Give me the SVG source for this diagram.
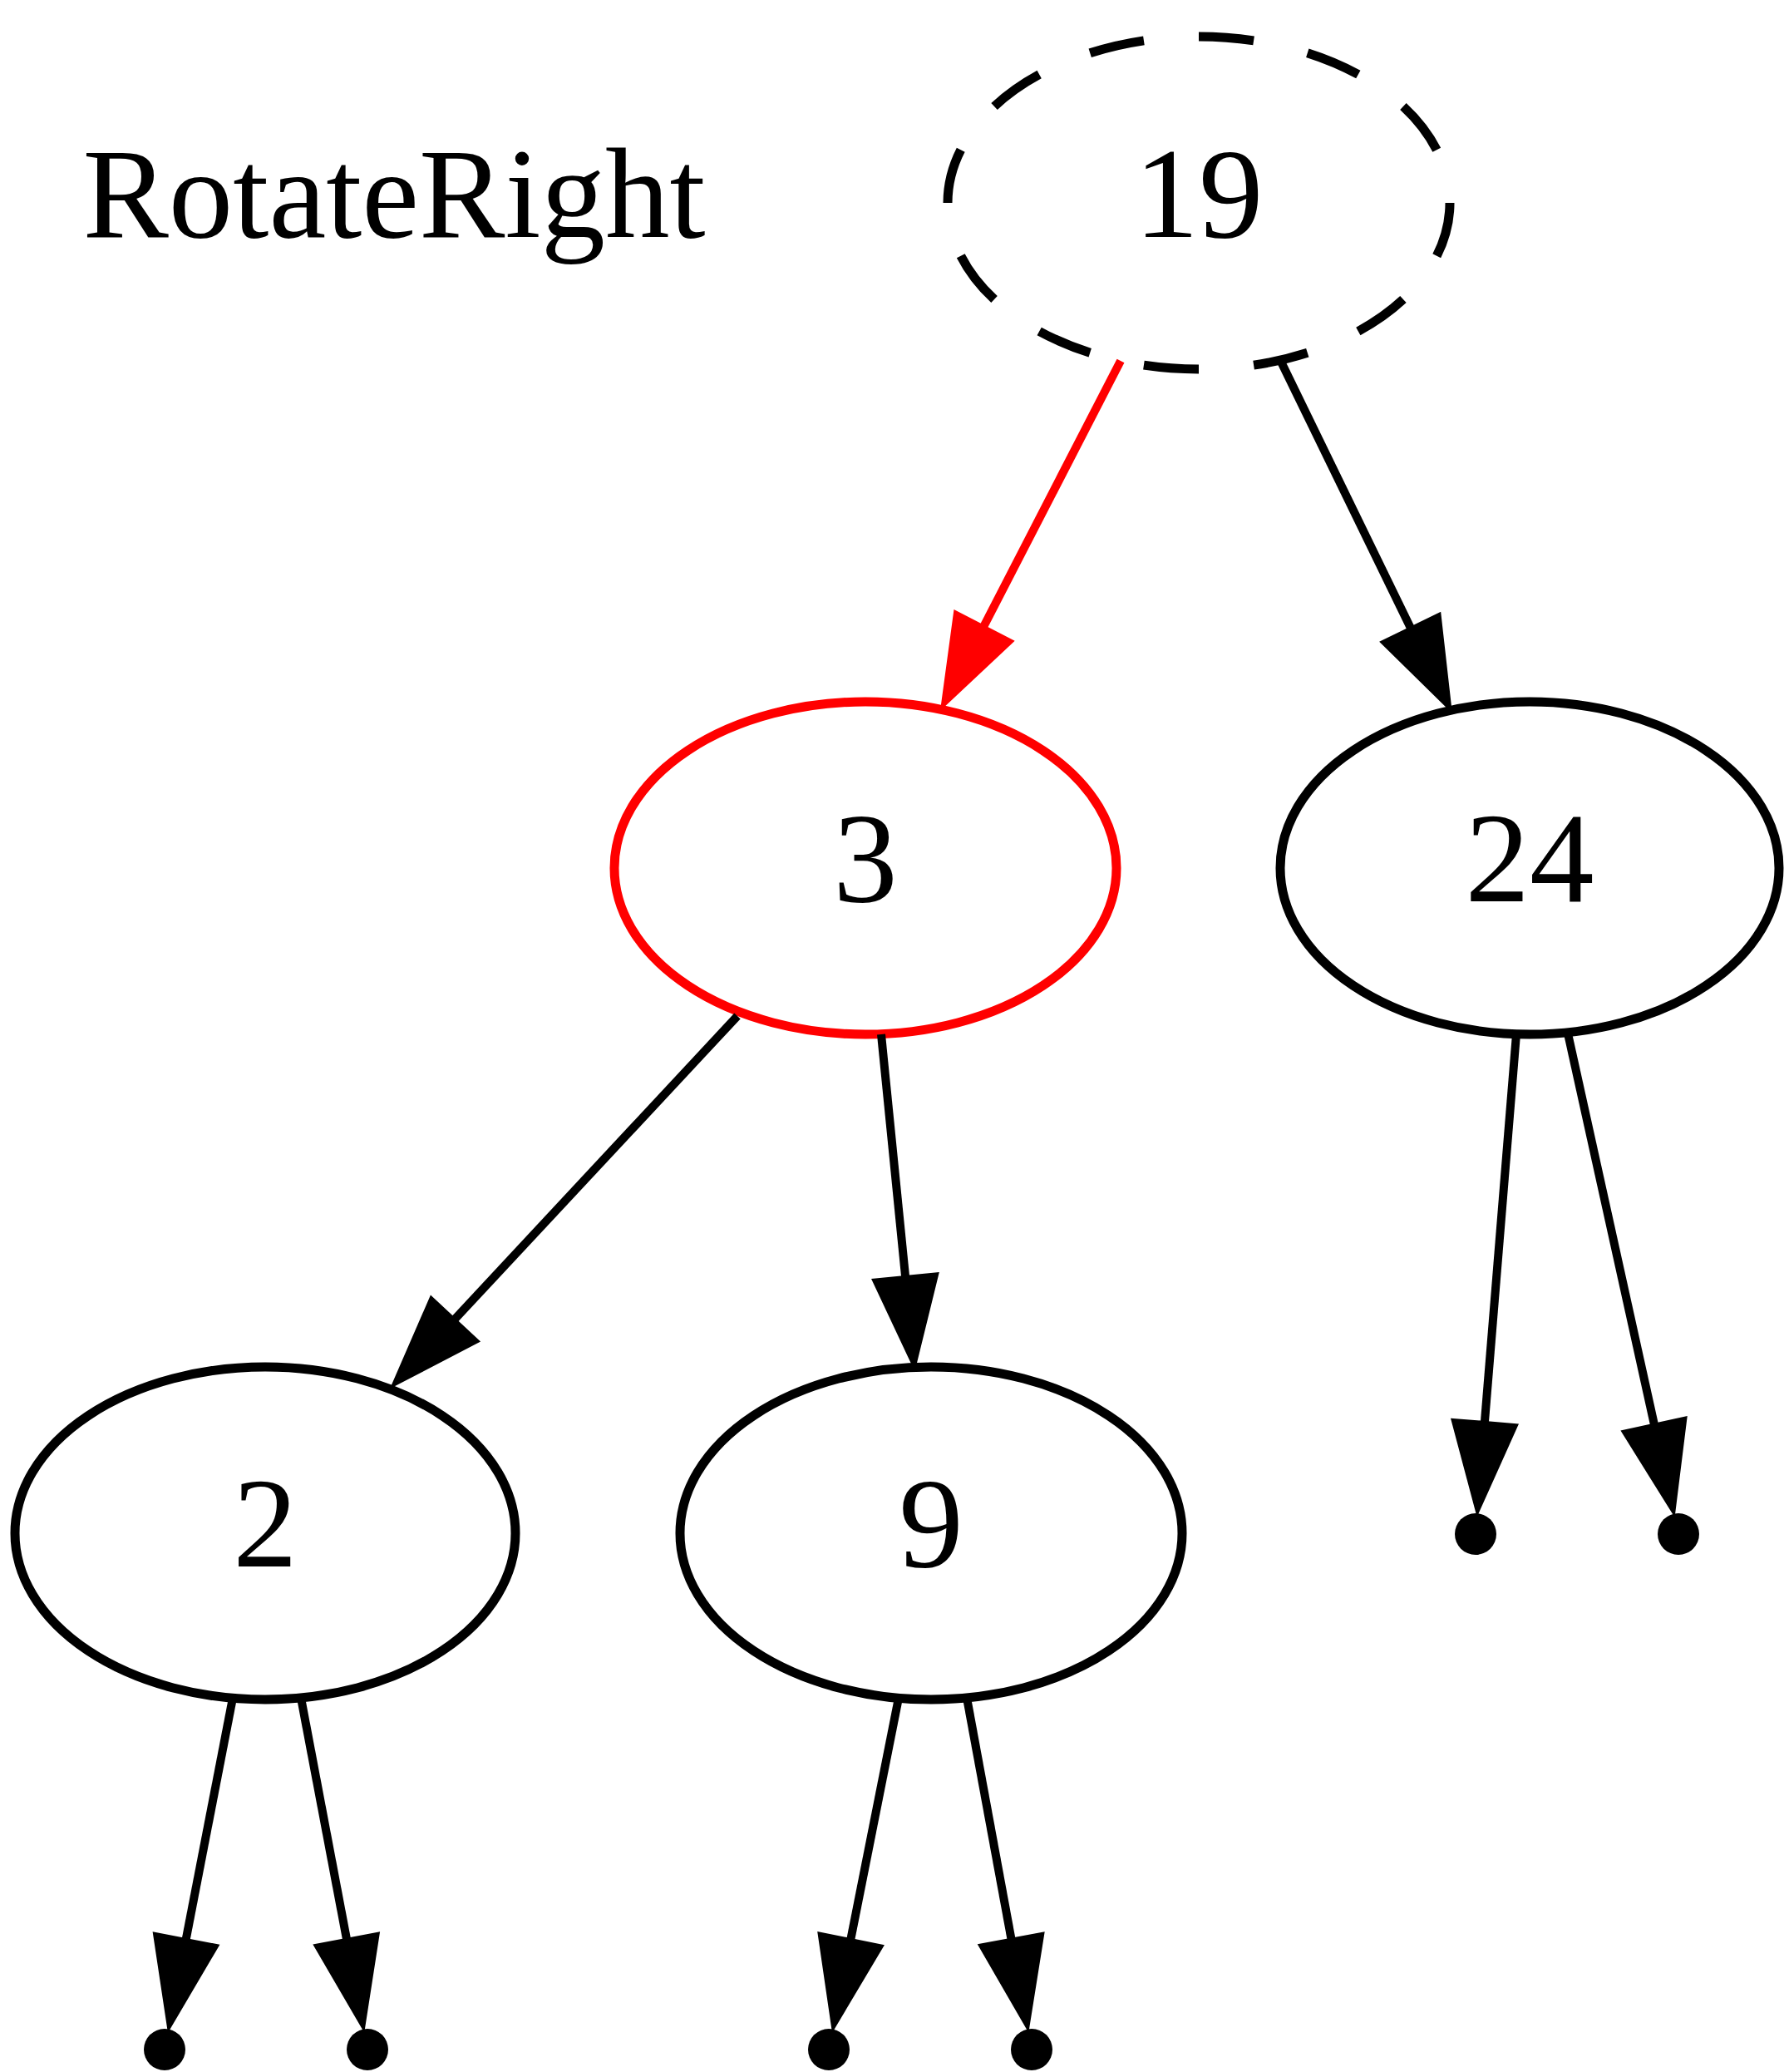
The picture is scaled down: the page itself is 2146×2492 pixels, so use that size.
<svg xmlns="http://www.w3.org/2000/svg" width="2146" height="2492" viewBox="0 0 2146 2492">
<style>
.node ellipse{fill:none;stroke:#000;stroke-width:11}
.lbl{font-family:"Liberation Serif","Times New Roman",serif;font-size:155px;fill:#000;text-anchor:middle}
.edge line{stroke:#000;stroke-width:10}
.edge polygon{fill:#000;stroke:#000;stroke-width:3}
.red line{stroke:#ff0000}
.red polygon{fill:#ff0000;stroke:#ff0000}
.pt{fill:#000}
</style>
<rect width="2146" height="2492" fill="#fff"/>
<g id="title"><text class="lbl" x="474" y="285">RotateRight</text></g>
<g id="n19" class="node"><ellipse cx="1442" cy="244" rx="302" ry="200" pathLength="24" stroke-dasharray="1 1"/><text class="lbl" x="1442" y="285">19</text></g>
<g id="n3" class="node"><ellipse cx="1041" cy="1044" rx="302" ry="200" style="stroke:#ff0000"/><text class="lbl" x="1041" y="1084">3</text></g>
<g id="n24" class="node"><ellipse cx="1840" cy="1044" rx="300" ry="200"/><text class="lbl" x="1840" y="1084">24</text></g>
<g id="n2" class="node"><ellipse cx="319" cy="1844" rx="301" ry="200"/><text class="lbl" x="319" y="1884">2</text></g>
<g id="n9" class="node"><ellipse cx="1120" cy="1844" rx="302" ry="200"/><text class="lbl" x="1120" y="1884">9</text></g>
<g id="nil1"><circle class="pt" cx="1775" cy="1845" r="25"/></g>
<g id="nil2"><circle class="pt" cx="2019" cy="1845" r="25"/></g>
<g id="nil3"><circle class="pt" cx="198" cy="2465" r="25"/></g>
<g id="nil4"><circle class="pt" cx="442" cy="2465" r="25"/></g>
<g id="nil5"><circle class="pt" cx="997" cy="2465" r="25"/></g>
<g id="nil6"><circle class="pt" cx="1241" cy="2465" r="25"/></g>
<g id="connectors">
<g class="edge red"><line x1="1348" y1="434" x2="1183.4" y2="753.2"/><polygon points="1218.1,771.1 1133,851 1148.7,735.3"/></g>
<g class="edge"><line x1="1540" y1="433" x2="1696.8" y2="755.1"/><polygon points="1731.9,738.0 1745,854 1661.7,772.2"/></g>
<g class="edge"><line x1="887" y1="1222" x2="547.0" y2="1586.6"/><polygon points="575.5,1613.2 472,1667 518.5,1560.0"/></g>
<g class="edge"><line x1="1060" y1="1244" x2="1089.1" y2="1535.5"/><polygon points="1127.9,1531.6 1100,1645 1050.3,1539.4"/></g>
<g class="edge"><line x1="1824" y1="1244" x2="1785.9" y2="1710.5"/><polygon points="1824.8,1713.7 1777.0,1820.1 1747.0,1707.3"/></g>
<g class="edge"><line x1="1886" y1="1243" x2="1989.9" y2="1713.2"/><polygon points="2028.0,1704.8 2013.6,1820.6 1951.8,1721.6"/></g>
<g class="edge"><line x1="280" y1="2042" x2="223.7" y2="2332.5"/><polygon points="262.0,2339.9 202.8,2440.5 185.4,2325.1"/></g>
<g class="edge"><line x1="362" y1="2042" x2="417.0" y2="2332.3"/><polygon points="455.3,2325.1 437.4,2440.4 378.7,2339.5"/></g>
<g class="edge"><line x1="1081" y1="2042" x2="1023.3" y2="2332.6"/><polygon points="1061.6,2340.2 1001.9,2440.5 985.0,2325.0"/></g>
<g class="edge"><line x1="1163" y1="2042" x2="1216.5" y2="2332.2"/><polygon points="1254.9,2325.1 1236.5,2440.4 1178.1,2339.3"/></g>
</g>
</svg>
